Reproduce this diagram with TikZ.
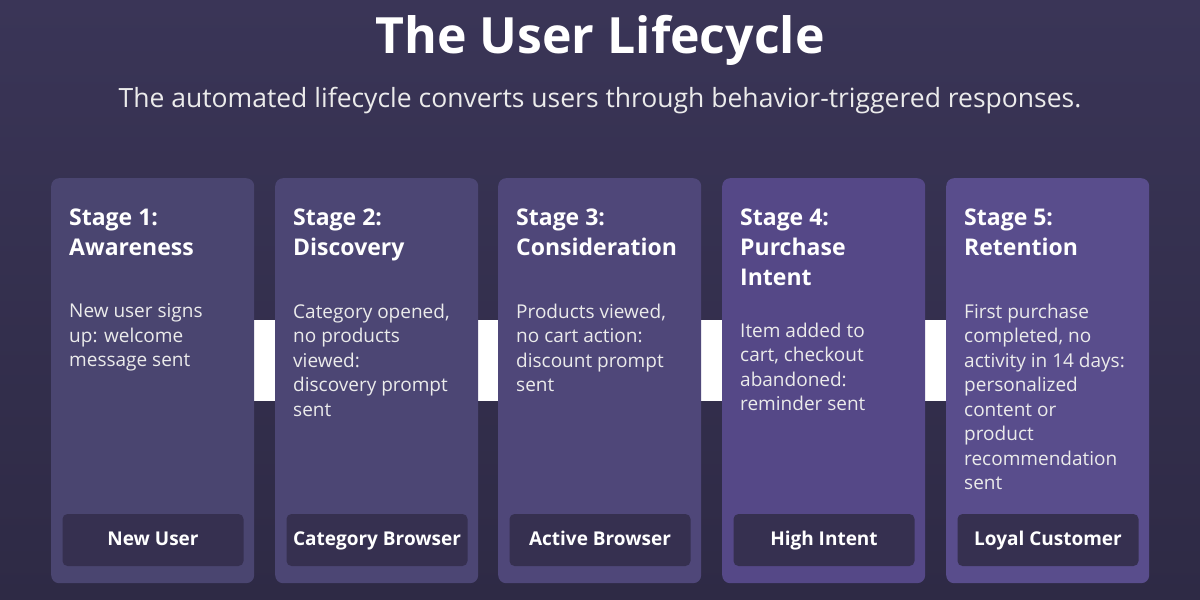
\documentclass[tikz,border=0pt]{standalone}
\usepackage{fontspec}
\setmainfont{Open Sans}
\begin{document}
\begin{tikzpicture}[x=1pt,y=-1pt,
  card/.style={rounded corners=8pt},
  head/.style={anchor=base west,text=white,font=\fontsize{23}{30}\selectfont\bfseries,align=left,inner sep=0pt},
  body/.style={anchor=base west,text=white!92!black,font=\fontsize{19}{24.5}\selectfont,align=left,inner sep=0pt},
  lab/.style={rounded corners=5pt,fill=labc,text=white,font=\fontsize{19}{22}\selectfont\bfseries,minimum width=181pt,minimum height=52pt,inner sep=0pt,text height=14pt,text depth=4pt},
  bar/.style={fill=white}]
\definecolor{bgtop}{HTML}{3A3557}
\definecolor{bgbot}{HTML}{2E2A45}
\definecolor{labc}{HTML}{363050}
\definecolor{ca}{HTML}{4A4570}
\definecolor{cb}{HTML}{4C4674}
\definecolor{cc}{HTML}{4F4779}
\definecolor{cd}{HTML}{554887}
\definecolor{ce}{HTML}{594D8C}
\useasboundingbox (0,0) rectangle (1200,600);
\shade[top color=bgtop,bottom color=bgbot] (0,0) rectangle (1200,600);
\node[text=white,font=\fontsize{50}{56}\selectfont\bfseries] (title) at (600,40) {The User Lifecycle};
\node[text=white!92!black,font=\fontsize{26.5}{30}\selectfont] (sub) at (600,101) {The automated lifecycle converts users through behavior-triggered responses.};
\foreach \x in {254,478,701,925}{
  \path[bar] (\x,320) rectangle (\x+21,401);
}
\foreach \x/\c/\n/\by/\h/\b/\l in {
 51/ca/1/318/{Stage 1:\\Awareness}/{New user signs\\up: welcome\\message sent}/{New User},
 275/cb/2/318/{Stage 2:\\Discovery}/{Category opened,\\no products\\viewed:\\discovery prompt\\sent}/{Category Browser},
 498/cc/3/318/{Stage 3:\\Consideration}/{Products viewed,\\no cart action:\\discount prompt\\sent}/{Active Browser},
 722/cd/4/337/{Stage 4:\\Purchase\\Intent}/{Item added to\\cart, checkout\\abandoned:\\reminder sent}/{High Intent},
 946/ce/5/318/{Stage 5:\\Retention}/{First purchase\\completed, no\\activity in 14 days:\\personalized\\content or\\product\\recommendation\\sent}/{Loyal Customer}}{
  \node[card,fill=\c,minimum width=203pt,minimum height=405pt,anchor=north west,inner sep=0pt] (card\n) at (\x,178) {};
  \node[head,anchor=north west] (h\n) at (\x+18,209) {\h};
  \node[body,anchor=north west] (t\n) at (\x+18,\by-14.5) {\b};
  \node[lab] (l\n) at (\x+102,540) {\l};
}
\end{tikzpicture}
\end{document}
